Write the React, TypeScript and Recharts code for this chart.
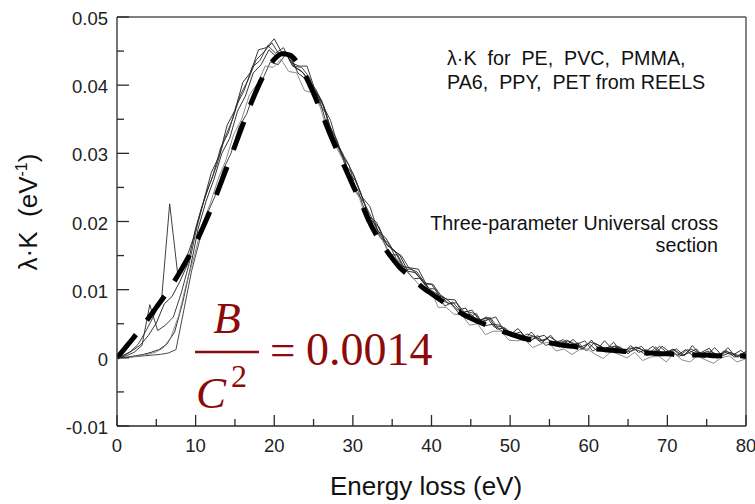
import React from "react";
import { LineChart, Line, XAxis, YAxis, ReferenceLine } from "recharts";

// values are stored in units of 1e-4 eV^-1, one sample per eV
const UNIT = 1e-4;
const STEP = 1;

const X_TICKS = [0, 5, 10, 15, 20, 25, 30, 35, 40, 45, 50, 55, 60, 65, 70, 75, 80];
const Y_TICKS = [-0.01, -0.005, 0, 0.005, 0.01, 0.015, 0.02, 0.025, 0.03, 0.035, 0.04, 0.045, 0.05];

// three-parameter universal cross section (thick dashed), from 0 eV
const universalFit = [
  0, 14, 28, 43, 58, 74, 90, 107, 126, 146,
  168, 193, 220, 250, 280, 311, 342, 372, 399, 422,
  438, 446, 444, 432, 413, 388, 360, 331, 304, 279,
  253, 229, 202, 180, 162, 146, 132, 122, 112, 102,
  94, 86, 78, 71, 64, 58, 53, 48, 43, 39,
  35, 31, 28, 26, 24, 22, 20, 18, 17, 15,
  14, 13, 12, 11, 10, 9, 8, 7, 7, 6,
  6, 5, 5, 4, 4, 4, 3, 3, 3, 3,
  2,
];

// REELS curves (thin, noisy); energy of the first sample of each curve
const reelsStart = [0, 0.7, 0.33, 0.5, 0.17, 0.85];

const reelsA = [
  0, 4, 11, 19, 33, 51, 79, 90, 112, 138,
  190, 229, 272, 296, 341, 363, 404, 419, 452, 455,
  468, 447, 444, 418, 409, 395, 378, 341, 319, 283,
  270, 242, 208, 199, 171, 160, 150, 127, 125, 110,
  108, 91, 86, 85, 64, 64, 54, 60, 45, 46,
  34, 43, 30, 31, 22, 31, 24, 17, 27, 16,
  21, 11, 25, 13, 16, 6, 16, 11, 6, 17,
  7, 11, 3, 13, 7, 3, 15, 3, 8, 1,
  9,
];
const reelsB = [
  3, 9, 20, 40, 62, 90, 226, 125, 142, 175,
  218, 252, 283, 322, 350, 386, 408, 437, 449, 462,
  444, 447, 426, 418, 398, 381, 341, 319, 300, 263,
  244, 209, 198, 176, 151, 151, 129, 116, 117, 101,
  94, 76, 82, 68, 59, 65, 47, 49, 48, 34,
  35, 25, 38, 25, 28, 18, 27, 18, 22, 10,
  22, 16, 9, 17, 8, 11, 17, 4, 11, 6,
  13, 3, 7, 13, 0, 8, 3, 15, 1, 6,
  4,
];
const reelsC = [
  0, 1, 3, 5, 8, 12, 20, 38, 80, 132,
  190, 230, 262, 300, 322, 362, 384, 418, 430, 452,
  441, 450, 428, 422, 409, 393, 369, 329, 308, 273,
  260, 231, 201, 192, 165, 157, 134, 132, 130, 108,
  89, 91, 82, 70, 73, 55, 56, 59, 42, 44,
  34, 38, 23, 30, 33, 22, 16, 25, 20, 13,
  26, 12, 15, 17, 6, 18, 8, 12, 4, 17,
  8, 4, 12, 2, 8, 14, -1, 8, 4, 11,
  2,
];
const reelsD = [
  0, 1, 2, 3, 4, 5, 7, 12, 70, 128,
  172, 212, 238, 276, 300, 338, 358, 392, 408, 434,
  430, 446, 428, 426, 411, 377, 360, 327, 298, 283,
  243, 226, 203, 176, 169, 146, 130, 130, 117, 102,
  101, 83, 79, 65, 68, 65, 51, 59, 43, 35,
  37, 33, 24, 33, 18, 23, 25, 17, 20, 25,
  10, 16, 12, 18, 7, 14, 10, 3, 16, 5,
  10, 2, 12, 7, -1, 10, 3, 11, 1, 6,
  -2,
];
const reelsE = [
  0, 3, 8, 18, 78, 40, 48, 60, 95, 138,
  192, 236, 266, 308, 330, 370, 392, 426, 436, 458,
  447, 455, 433, 428, 428, 393, 371, 348, 308, 290,
  267, 236, 222, 186, 176, 157, 150, 131, 126, 108,
  108, 92, 79, 81, 67, 70, 53, 56, 60, 41,
  38, 28, 35, 31, 25, 33, 19, 26, 19, 13,
  23, 19, 12, 23, 7, 14, 15, 9, 17, 5,
  10, 13, 3, 18, 5, 10, 0, 10, 7, 3,
  11,
];
const reelsF = [
  0, 1, 3, 5, 8, 14, 30, 62, 110, 150,
  196, 226, 262, 290, 328, 350, 386, 402, 428, 426,
  438, 420, 418, 392, 389, 368, 329, 310, 288, 253,
  234, 199, 186, 171, 146, 129, 128, 115, 101, 102,
  74, 74, 64, 63, 48, 50, 34, 39, 39, 26,
  25, 27, 15, 20, 23, 10, 13, 5, 12, 13,
  5, -1, 9, 5, 0, 8, -4, 1, 3, -6,
  7, -3, -6, 3, -3, -8, 0, 3, -6, -2,
  -8,
];

const reelsCurves = [reelsA, reelsB, reelsC, reelsD, reelsE, reelsF];
const reelsColors = ["#1c1c1c", "#2a2a2a", "#1c1c1c", "#333", "#2a2a2a", "#808080"];

const toPoints = (start: number, values: number[]) =>
  values.map((v, i) => ({ energy: start + i * STEP, value: v * UNIT }));

const AXIS = "#2a2a2a";
const SANS = "'Liberation Sans', Arial, Helvetica, sans-serif";
const SERIF = "'Liberation Serif', 'Times New Roman', serif";
const RED = "#8c0a0a";

function XTick({ x, y, payload }: any) {
  const v = payload.value;
  const major = v % 10 === 0;
  return (
    <g>
      <line x1={x} x2={x} y1={y} y2={y - (major ? 11 : 7)} stroke={AXIS} strokeWidth={1.3} />
      {major && (
        <text x={x} y={y + 26} textAnchor="middle" fontFamily={SANS} fontSize={18.5} fill="#222">
          {v}
        </text>
      )}
    </g>
  );
}

function YTick({ x, y, payload }: any) {
  const v = payload.value;
  const major = Math.round(v * 1000) % 10 === 0;
  return (
    <g>
      <line x1={x} x2={x + (major ? 12 : 7)} y1={y} y2={y} stroke={AXIS} strokeWidth={1.3} />
      {major && (
        <text x={x - 9} y={y + 8} textAnchor="end" fontFamily={SANS} fontSize={18.5} fill="#222">
          {v === 0 ? "0" : v.toFixed(2)}
        </text>
      )}
    </g>
  );
}

const pre = { whiteSpace: "pre" as const };

export default function App() {
  return (
    <div style={{ position: "absolute", left: 0, top: 0, width: 755, height: 504, background: "#fff" }}>
      <LineChart width={755} height={504} margin={{ top: 17, right: 9, bottom: 0, left: 0 }}>
        <XAxis
          type="number"
          dataKey="energy"
          domain={[0, 80]}
          ticks={X_TICKS}
          interval={0}
          allowDataOverflow
          height={78}
          tickSize={0}
          tickMargin={0}
          tickLine={false}
          axisLine={{ stroke: AXIS, strokeWidth: 1.3 }}
          tick={(p: any) => <XTick {...p} />}
        />
        <YAxis
          type="number"
          domain={[-0.01, 0.05]}
          ticks={Y_TICKS}
          interval={0}
          allowDataOverflow
          width={117}
          tickSize={0}
          tickMargin={0}
          tickLine={false}
          axisLine={{ stroke: AXIS, strokeWidth: 1.3 }}
          tick={(p: any) => <YTick {...p} />}
        />
        <ReferenceLine y={0.05} stroke="#555" strokeWidth={1.3} />
        <ReferenceLine x={80} stroke="#444" strokeWidth={1.3} />
        {reelsCurves.map((vals, i) => (
          <Line
            key={i}
            data={toPoints(reelsStart[i], vals)}
            dataKey="value"
            type="linear"
            stroke={reelsColors[i]}
            strokeWidth={0.9}
            dot={false}
            activeDot={false}
            isAnimationActive={false}
          />
        ))}
        <Line
          data={toPoints(0, universalFit)}
          dataKey="value"
          type="monotone"
          stroke="#000"
          strokeWidth={5}
          strokeDasharray="30 18"
          dot={false}
          activeDot={false}
          isAnimationActive={false}
        />
      </LineChart>
      <svg
        width={755}
        height={504}
        style={{ position: "absolute", left: 0, top: 0, pointerEvents: "none" }}
      >
        <g fontFamily={SANS} fill="#111" fontSize={19.7}>
          <text x={447} y={65} style={pre}>{"λ·K  for  PE,  PVC,  PMMA,"}</text>
          <text x={447} y={89} style={pre}>{"PA6,  PPY,  PET from REELS"}</text>
          <text x={718} y={230} textAnchor="end">Three-parameter Universal cross</text>
          <text x={718} y={252} textAnchor="end">section</text>
        </g>
        <text x={426} y={495} textAnchor="middle" fontFamily={SANS} fontSize={26} fill="#111">
          Energy loss (eV)
        </text>
        <text
          transform="translate(37,212) rotate(-90)"
          textAnchor="middle"
          fontFamily={SANS}
          fontSize={26}
          fill="#111"
          style={pre}
        >
          {"λ·K  (eV"}
          <tspan dy={-10} fontSize={16}>-1</tspan>
          <tspan dy={10}>)</tspan>
        </text>
        <g fill={RED} fontFamily={SERIF}>
          <text x={227} y={333} textAnchor="middle" fontSize={45} fontStyle="italic">B</text>
          <line x1={195} x2={259} y1={352} y2={352} stroke={RED} strokeWidth={2.5} />
          <text x={196} y={408} fontSize={45} fontStyle="italic">C</text>
          <text x={231} y={387} fontSize={32}>2</text>
          <text x={270} y={365} fontSize={45}>=</text>
          <text x={306} y={365} fontSize={46}>0.0014</text>
        </g>
      </svg>
    </div>
  );
}
